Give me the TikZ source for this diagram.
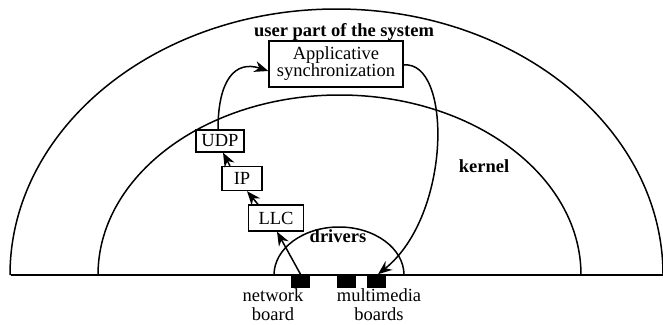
\documentclass[tikz,border=0pt]{standalone}
\usepackage{fontspec}
\setmainfont{Liberation Serif}
\usetikzlibrary{arrows.meta}
\begin{document}
\begin{tikzpicture}[x=1pt,y=-1pt,line width=1.5pt,
  every node/.style={font=\fontsize{18.5}{20}\selectfont},
  lbox/.style={draw,line width=1.3pt,inner sep=0pt,align=center},
  board/.style={fill=black,draw=none,inner sep=0pt,minimum width=19pt,minimum height=13pt},
  lbl/.style={font=\fontsize{18.5}{20}\selectfont\bfseries},
  blab/.style={align=center,inner sep=0pt,anchor=north,font=\fontsize{18.5}{19}\selectfont},
  arr/.style={-{Stealth[length=14pt,width=11pt,inset=4.5pt]}}]
\useasboundingbox (0,0) rectangle (663,324);
% arcs and baseline
\draw (10,275) arc[start angle=180,end angle=0,x radius=326.5pt,y radius=266pt];
\draw (98,275) arc[start angle=180,end angle=0,x radius=241.5pt,y radius=180pt];
\draw (274,275) arc[start angle=180,end angle=0,x radius=65pt,y radius=48pt];
\draw (11,275) -- (663,275);
% boards
\node[board] (net) at (300.5,281.5) {};
\node[board] (mma) at (346.5,281.5) {};
\node[board] (mmb) at (376,281.5) {};
% labels
\node[lbl] (user) at (344,32) {user part of the system};
\node[lbl] (kern) at (484,166) {kernel};
\node[lbl] (drv) at (338,236) {drivers};
\node[blab] (netl) at (273,288) {network\\board};
\node[blab] (mml) at (379,288) {multimedia\\boards};
% protocol boxes
\node[lbox,minimum width=134pt,minimum height=46pt] (app) at (336,64) {Applicative\\[-3pt]synchronization};
\node[lbox,minimum width=48pt,minimum height=22pt] (udp) at (220,141) {UDP};
\node[lbox,minimum width=40pt,minimum height=24pt] (ip) at (242,178.5) {IP};
\node[lbox,minimum width=55pt,minimum height=26pt] (llc) at (276,218) {LLC};
% connectors
\draw[arr] (net.north) -- ([xshift=1pt]llc.south);
\draw[arr] ([xshift=-18pt]llc.north) -- ([xshift=5pt]ip.south);
\draw[arr] ([xshift=-12pt]ip.north) -- ([xshift=3pt]udp.south);
\draw[arr] ([xshift=-2pt]udp.north) .. controls (218,80) and (235,60) .. ([yshift=-7pt]app.west);
\draw[arr] ([yshift=-1pt]app.east) .. controls (452,60) and (452,215) .. ([xshift=2pt]mmb.north);
\end{tikzpicture}
\end{document}
